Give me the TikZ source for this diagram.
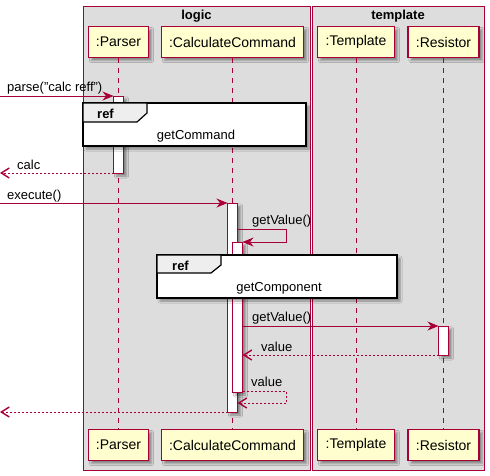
\documentclass[tikz,border=0pt]{standalone}
\usepackage{fontspec}
\setmainfont{Liberation Sans}
\usetikzlibrary{arrows.meta,shadows,shadows.blur}
\definecolor{pcrim}{HTML}{A80036}
\definecolor{pfill}{HTML}{FEFECE}
\definecolor{pgray}{HTML}{DDDDDD}
\definecolor{ptab}{HTML}{EEEEEE}
\tikzset{
  shd/.style={blur shadow={shadow xshift=3pt, shadow yshift=-3pt, shadow blur steps=4, shadow opacity=40}},
  frm/.style={draw=pcrim, fill=pgray, line width=1pt},
  frmtitle/.style={font=\bfseries\fontsize{13}{15}\selectfont, inner sep=0pt, anchor=base},
  part/.style={draw=pcrim, fill=pfill, line width=1.3pt, inner sep=0pt, minimum height=31pt,
    font=\fontsize{14}{16}\selectfont, shd},
  lifeline/.style={draw=pcrim, line width=0.9pt, dash pattern=on 5pt off 5pt},
  act/.style={draw=pcrim, fill=white, line width=1pt, inner sep=0pt, outer sep=0pt, minimum width=10pt, shd},
  msg/.style={draw=pcrim, line width=0.9pt, -{Stealth[length=11pt, width=9pt, inset=3.5pt]}},
  ret/.style={draw=pcrim, line width=0.9pt, dash pattern=on 2pt off 2pt,
    -{Straight Barb[length=8pt, width=10pt, line width=1.4pt]}},
  lbl/.style={font=\fontsize{13}{15}\selectfont, inner sep=0pt, anchor=base west},
  refbox/.style={draw=black, fill=white, line width=1.6pt, inner sep=0pt, outer sep=0pt, shd},
  reftab/.style={draw=black, fill=ptab, line width=1.2pt},
  refword/.style={font=\bfseries\fontsize{13}{15}\selectfont, inner sep=0pt, anchor=base west},
  reftext/.style={font=\fontsize{13}{15}\selectfont, inner sep=0pt, anchor=base},
}
\begin{document}
\begin{tikzpicture}[x=1pt, y=-1pt]
\useasboundingbox (0,0) rectangle (490,475);
% frames
\draw[frm] (83,6) rectangle (310,470);
\draw[frm] (312,6) rectangle (484,470);
\node[frmtitle] (tlogic) at (196.5,19) {logic};
\node[frmtitle] (ttempl) at (398,19) {template};
% participants
\node[part, minimum width=60pt] (pT) at (118.5,42) {:Parser};
\node[part, minimum width=142pt] (cT) at (232.5,42) {:CalculateCommand};
\node[part, minimum width=77pt] (tT) at (356,42) {:Template};
\node[part, minimum width=71pt] (rT) at (443.5,42) {:Resistor};
\node[part, minimum width=60pt] (pB) at (118.5,445) {:Parser};
\node[part, minimum width=142pt] (cB) at (232.5,445) {:CalculateCommand};
\node[part, minimum width=77pt] (tB) at (356,445) {:Template};
\node[part, minimum width=71pt] (rB) at (443.5,445) {:Resistor};
% lifelines
\draw[lifeline] (pT) -- (pB);
\draw[lifeline] (cT) -- (cB);
\draw[lifeline] (tT) -- (tB);
\draw[lifeline] (rT) -- (rB);
% activations
\node[act, minimum height=77pt] (aP) at (118.5,134.5) {};
\node[act, minimum height=209pt] (aC1) at (232.5,307.5) {};
\node[act, minimum height=150pt] (aC2) at (237.5,317) {};
\node[act, minimum height=29pt] (aR) at (443.5,340.5) {};
% ref 1
\node[refbox, minimum width=223pt, minimum height=43pt] (ref1) at (194.5,124.5) {};
\draw[reftab] (ref1.north west) -- (147,103) -- (147,113) -- (137,122) -- (83,122) -- cycle;
\node[refword] (ref1w) at (97,118) {ref};
\node[reftext] (ref1t) at (196,139) {getCommand};
% ref 2
\node[refbox, minimum width=240pt, minimum height=43pt] (ref2) at (277,276.5) {};
\draw[reftab] (ref2.north west) -- (221,255) -- (221,265) -- (211,273) -- (157,273) -- cycle;
\node[refword] (ref2w) at (172,270) {ref};
\node[reftext] (ref2t) at (279,291) {getComponent};
% free ends
\coordinate (in1) at (0,96);
\coordinate (out1) at (0,173);
\coordinate (in2) at (0,203);
\coordinate (out2) at (0,412);
\coordinate (s1a) at (aC1.east |- 0,229);
\coordinate (s1b) at (286,229);
\coordinate (s1c) at (286,242);
\coordinate (m2) at (aC2.east |- 0,326);
\coordinate (r2) at (aC2.east |- 0,355);
\coordinate (s2a) at (aC2.east |- 0,391);
\coordinate (s2b) at (286,391);
\coordinate (s2c) at (286,403);
\coordinate (s2d) at (aC1.east |- 0,403);
% messages
\draw[msg] (in1) -- (aP.north west);
\node[lbl] (l1) at (7,91) {parse("calc reff")};
\draw[ret] (aP.south west) -- (out1);
\node[lbl] (l2) at (17,169) {calc};
\draw[msg] (in2) -- (aC1.north west);
\node[lbl] (l3) at (7,199) {execute()};
\draw[msg] (s1a) -- (s1b) -- (s1c) -- (aC2.north east);
\node[lbl] (l4) at (252,224) {getValue()};
\draw[msg] (m2) -- (aR.north west);
\node[lbl] (l5) at (252,321) {getValue()};
\draw[ret] (aR.south west) -- (r2);
\node[lbl] (l6) at (261,351) {value};
\draw[ret] (s2a) -- (s2b) -- (s2c) -- (s2d);
\node[lbl] (l7) at (251,386) {value};
\draw[ret] (aC1.south west) -- (out2);
\end{tikzpicture}
\end{document}
